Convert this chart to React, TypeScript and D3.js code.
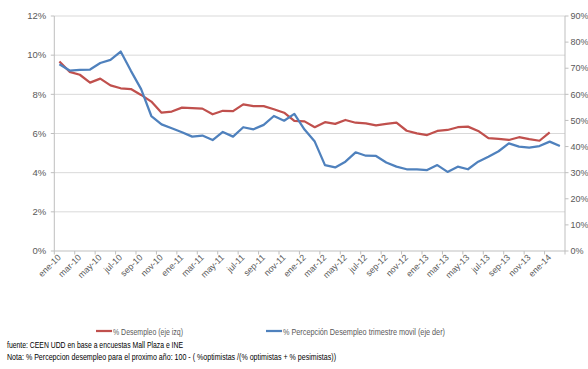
import React from "react";
import * as d3 from "d3";

// meses (ene-10 .. feb-14)
const categories = [
  "ene-10", "feb-10", "mar-10", "abr-10", "may-10", "jun-10", "jul-10", "ago-10", "sep-10", "oct-10", "nov-10", "dic-10",
  "ene-11", "feb-11", "mar-11", "abr-11", "may-11", "jun-11", "jul-11", "ago-11", "sep-11", "oct-11", "nov-11", "dic-11",
  "ene-12", "feb-12", "mar-12", "abr-12", "may-12", "jun-12", "jul-12", "ago-12", "sep-12", "oct-12", "nov-12", "dic-12",
  "ene-13", "feb-13", "mar-13", "abr-13", "may-13", "jun-13", "jul-13", "ago-13", "sep-13", "oct-13", "nov-13", "dic-13",
  "ene-14", "feb-14",
];

// % Desempleo (eje izq), hasta ene-14
const desempleo = [
  9.68, 9.15, 9.0, 8.6, 8.8, 8.46, 8.31, 8.27, 7.97, 7.63, 7.06, 7.12,
  7.32, 7.29, 7.27, 6.98, 7.16, 7.14, 7.49, 7.4, 7.4, 7.24, 7.06, 6.64,
  6.62, 6.32, 6.58, 6.49, 6.69, 6.55, 6.52, 6.42, 6.49, 6.55, 6.14, 6.01,
  5.92, 6.13, 6.18, 6.32, 6.35, 6.13, 5.76, 5.72, 5.67, 5.81, 5.71, 5.63,
  6.06,
];

// % Percepción desempleo trimestre móvil (eje der)
const percepcion = [
  71.5, 69.1, 69.4, 69.5, 72.0, 73.2, 76.4, 69.0, 62.0, 51.7, 48.5, 47.0,
  45.5, 43.8, 44.2, 42.5, 45.6, 43.8, 47.4, 46.6, 48.3, 51.7, 49.9, 52.5,
  46.5, 41.9, 32.9, 32.0, 34.2, 37.8, 36.5, 36.4, 33.9, 32.3, 31.3, 31.3,
  31.0, 32.9, 30.3, 32.3, 31.3, 34.2, 36.1, 38.2, 41.2, 40.0, 39.6, 40.2,
  41.9, 40.2,
];

const leftTicks = [0, 2, 4, 6, 8, 10, 12];
const rightTicks = [0, 10, 20, 30, 40, 50, 60, 70, 80, 90];

const W = 588;
const H = 369;
const RED = "#C0504D";
const BLUE = "#4F81BD";
const TXT = "#595959";
const FONT = "'Liberation Sans', Arial, sans-serif";

export default function App() {
  const x = d3.scaleBand<string>().domain(categories).range([54.3, 565]).padding(0);
  const yL = d3.scaleLinear().domain([0, 12]).range([251, 16]);
  const yR = d3.scaleLinear().domain([0, 90]).range([251, 16]);
  const cx = (c: string) => (x(c) ?? 0) + x.bandwidth() / 2;

  const lineL = d3
    .line<number>()
    .x((_, i) => cx(categories[i]))
    .y((d) => yL(d));
  const lineR = d3
    .line<number>()
    .x((_, i) => cx(categories[i]))
    .y((d) => yR(d));

  const [x0, x1] = x.range();
  const yBase = yL(0);

  return (
    <svg
      width={W}
      height={H}
      style={{ position: "absolute", left: 0, top: 0, background: "#fff" }}
      fontFamily={FONT}
    >
      <rect width={W} height={H} fill="#fff" />

      {/* grid + eje izq */}
      {leftTicks.map((t) => (
        <g key={"l" + t}>
          {t > 0 && <line x1={x0} x2={x1} y1={yL(t)} y2={yL(t)} stroke="#d9d9d9" strokeWidth={1} />}
          <line x1={x0 - 3.5} x2={x0} y1={yL(t)} y2={yL(t)} stroke="#bfbfbf" />
          <text x={x0 - 8} y={yL(t) + 3.3} textAnchor="end" fontSize={9.5} fill={TXT}>
            {t + "%"}
          </text>
        </g>
      ))}
      <line x1={x0} x2={x0} y1={yL(12)} y2={yBase} stroke="#bfbfbf" />

      {/* eje der */}
      <line x1={x1} x2={x1} y1={yR(90)} y2={yBase} stroke="#bfbfbf" />
      {rightTicks.map((t) => (
        <g key={"r" + t}>
          <line x1={x1} x2={x1 + 3.5} y1={yR(t)} y2={yR(t)} stroke="#bfbfbf" />
          <text x={x1 + 5.5} y={yR(t) + 3.2} fontSize={9} fill={TXT}>
            {t + "%"}
          </text>
        </g>
      ))}

      {/* eje x */}
      <line x1={x0} x2={x1} y1={yBase} y2={yBase} stroke="#bfbfbf" />
      {categories.map((c, i) =>
        i % 2 === 0 ? (
          <line key={"tk" + c} x1={x(c)} x2={x(c)} y1={yBase} y2={yBase + 3.5} stroke="#bfbfbf" />
        ) : null
      )}
      <line x1={x1} x2={x1} y1={yBase} y2={yBase + 3.5} stroke="#bfbfbf" />
      {categories.map((c, i) =>
        i % 2 === 0 ? (
          <text
            key={"lb" + c}
            transform={`translate(${cx(c) + 2},${yBase + 7}) rotate(-45)`}
            textAnchor="end"
            fontSize={8.8}
            fill={TXT}
          >
            {c}
          </text>
        ) : null
      )}

      {/* series */}
      <path d={lineL(desempleo) ?? ""} fill="none" stroke={RED} strokeWidth={2.25} strokeLinejoin="round" />
      <path d={lineR(percepcion) ?? ""} fill="none" stroke={BLUE} strokeWidth={2.25} strokeLinejoin="round" />

      {/* leyenda */}
      <line x1={96} x2={112} y1={331} y2={331} stroke={RED} strokeWidth={2.25} />
      <text x={113} y={334.5} fontSize={9.8} fill={TXT} textLength={70} lengthAdjust="spacingAndGlyphs">
        % Desempleo (eje izq)
      </text>
      <line x1={266} x2={282} y1={331} y2={331} stroke={BLUE} strokeWidth={2.25} />
      <text x={283} y={334.5} fontSize={9.8} fill={TXT} textLength={162} lengthAdjust="spacingAndGlyphs">
        % Percepción Desempleo trimestre movil (eje der)
      </text>

      {/* notas */}
      <text x={7} y={347.5} fontSize={9.5} fill="#000" textLength={176} lengthAdjust="spacingAndGlyphs">
        fuente: CEEN UDD en base a encuestas Mall Plaza e INE
      </text>
      <text x={7} y={360} fontSize={9.5} fill="#000" textLength={329} lengthAdjust="spacingAndGlyphs">
        Nota: % Percepcion desempleo para el proximo año: 100 - ( %optimistas /(% optimistas + % pesimistas))
      </text>
    </svg>
  );
}
